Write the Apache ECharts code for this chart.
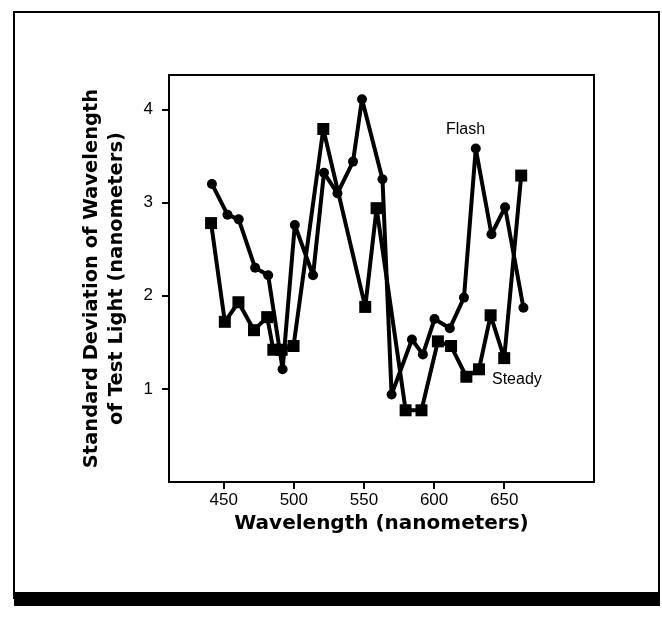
<!DOCTYPE html>
<html>
<head>
<meta charset="utf-8">
<style>
  html, body { margin: 0; padding: 0; background: #fff; }
  #chart { width: 662px; height: 619px; }
</style>
<script src="https://cdn.jsdelivr.net/npm/echarts@6/dist/echarts.min.js"></script>
</head>
<body>
<div id="chart"></div>
<script>
// Wavelength (nm) and standard deviation (nm)
const flashWavelength = [441.6, 452.7, 460.7, 472.4, 481.7, 492.0, 500.7, 513.7, 521.5, 531.1, 542.2, 548.6, 563.2, 569.7, 584.2, 592.0, 600.3, 611.2, 621.3, 629.7, 640.9, 650.6, 663.7];
const flashSD =         [3.20, 2.87, 2.82, 2.30, 2.22, 1.21, 2.76, 2.22, 3.32, 3.10, 3.44, 4.11, 3.25, 0.94, 1.53, 1.37, 1.75, 1.65, 1.98, 3.58, 2.66, 2.95, 1.87];

const steadyWavelength = [441.0, 450.8, 460.5, 471.6, 481.0, 485.4, 491.3, 499.8, 521.0, 550.9, 559.0, 579.7, 591.0, 602.7, 612.1, 623.0, 632.0, 640.3, 650.0, 662.1];
const steadySD =         [2.78, 1.72, 1.93, 1.63, 1.77, 1.42, 1.42, 1.46, 3.79, 1.88, 2.94, 0.77, 0.77, 1.51, 1.46, 1.13, 1.21, 1.79, 1.33, 3.29];

const xTicks = [450, 500, 550, 600, 650];
const yTicks = [1, 2, 3, 4];

const seriesNames = ['Flash', 'Steady'];
const xTitle = 'Wavelength (nanometers)';
const yTitle = 'Standard Deviation of Wavelength\nof Test Light (nanometers)';

const zip = (a, b) => a.map((v, i) => [v, b[i]]);

const chart = echarts.init(document.getElementById('chart'), null, { renderer: 'canvas' });

const axisFont = 'Liberation Sans, Arial, Helvetica, sans-serif';
const titleFont = 'DejaVu Sans, Liberation Sans, sans-serif';

chart.setOption({
  animation: false,
  backgroundColor: '#fff',
  grid: { left: 169, top: 75, right: 68, bottom: 137, show: true, borderColor: '#000', borderWidth: 2, containLabel: false },
  xAxis: {
    type: 'value', min: 411, max: 714,
    axisLine: { show: true, lineStyle: { color: '#000', width: 2 } },
    axisTick: { show: true, inside: false, length: 7, lineStyle: { color: '#000', width: 2 }, customValues: xTicks },
    axisLabel: { show: true, margin: 10, color: '#000', fontSize: 17, fontFamily: axisFont, customValues: xTicks },
    splitLine: { show: false },
    name: xTitle, nameLocation: 'middle', nameGap: 30,
    nameTextStyle: { color: '#000', fontSize: 20, fontWeight: 'bold', fontFamily: titleFont }
  },
  yAxis: {
    type: 'value', min: 0, max: 4.37,
    axisLine: { show: true, lineStyle: { color: '#000', width: 2 } },
    axisTick: { show: true, inside: false, length: 7, lineStyle: { color: '#000', width: 2 }, customValues: yTicks },
    axisLabel: { show: true, margin: 16, color: '#000', fontSize: 17, fontFamily: axisFont, customValues: yTicks },
    splitLine: { show: false },
    name: yTitle, nameLocation: 'middle', nameGap: 40, nameRotate: 90,
    nameTextStyle: { color: '#000', fontSize: 19.5, fontWeight: 'bold', fontFamily: titleFont, lineHeight: 25, align: 'center' }
  },
  series: [
    {
      name: seriesNames[0], type: 'line', data: zip(flashWavelength, flashSD),
      symbol: 'circle', symbolSize: 10,
      lineStyle: { color: '#000', width: 4 },
      itemStyle: { color: '#000' }
    },
    {
      name: seriesNames[1], type: 'line', data: zip(steadyWavelength, steadySD),
      symbol: 'rect', symbolSize: 12,
      lineStyle: { color: '#000', width: 4 },
      itemStyle: { color: '#000' }
    }
  ],
  graphic: [
    { type: 'rect', shape: { x: 14, y: 12, width: 645, height: 586 }, style: { fill: 'none', stroke: '#000', lineWidth: 2 }, silent: true },
    { type: 'rect', shape: { x: 14, y: 592, width: 646, height: 14 }, style: { fill: '#000' }, silent: true },
    { type: 'text', x: 446, y: 122, style: { text: seriesNames[0], fill: '#000', font: '16px Liberation Sans, Arial, sans-serif' } },
    { type: 'text', x: 492, y: 372, style: { text: seriesNames[1], fill: '#000', font: '16px Liberation Sans, Arial, sans-serif' } }
  ]
});
</script>
</body>
</html>
